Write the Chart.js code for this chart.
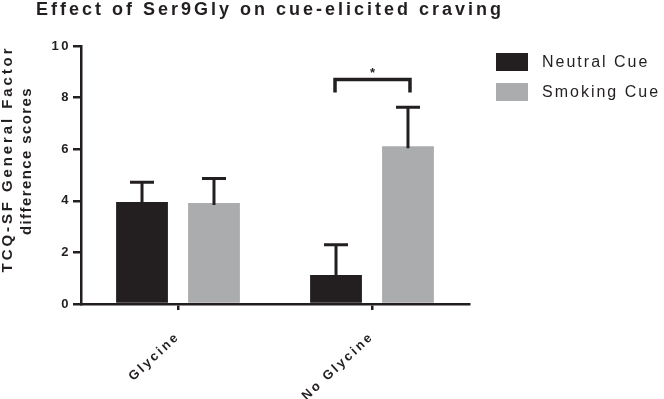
<!DOCTYPE html>
<html>
<head>
<meta charset="utf-8">
<script src="https://cdn.jsdelivr.net/npm/chart.js@4/dist/chart.umd.min.js"></script>
<style>
html,body{margin:0;padding:0;background:#fff;}
#wrap{width:664px;height:399px;position:relative;}
</style>
</head>
<body>
<div id="wrap"><canvas id="c" width="664" height="399"></canvas></div>
<script>
const categories = ["Glycine", "No Glycine"];
const seriesNames = ["Neutral Cue", "Smoking Cue"];
const neutralMeans = [3.95, 1.12];
const neutralErr = [0.77, 1.18];
const smokingMeans = [3.91, 6.11];
const smokingErr = [0.95, 1.52];
const yTicks = [0, 2, 4, 6, 8, 10];
const titleText = "Effect of Ser9Gly on cue-elicited craving";
const yTitleLines = ["TCQ-SF General Factor", "difference scores"];
const sigLabel = "*";
const sigBracket = { category: 1, top: 8.7, arm: 8.2, star: 9.05 };

const DARK = "#231f20";
const GRAY = "#abacae";
const FONT = "'Liberation Sans', Arial, Helvetica, sans-serif";

const extras = {
  id: "extras",
  beforeUpdate(chart) { chart.ctx.letterSpacing = "2.5px"; },
  beforeDraw(chart) { chart.ctx.letterSpacing = "2.5px"; },
  afterDatasetsDraw(chart) {
    const ctx = chart.ctx;
    const y = chart.scales.y;
    const errs = [neutralErr, smokingErr];
    const means = [neutralMeans, smokingMeans];
    ctx.save();
    ctx.strokeStyle = DARK;
    ctx.lineWidth = 3;
    ctx.lineCap = "butt";
    for (let d = 0; d < 2; d++) {
      const meta = chart.getDatasetMeta(d);
      meta.data.forEach((bar, i) => {
        const x = bar.x;
        const y0 = y.getPixelForValue(means[d][i]);
        const y1 = y.getPixelForValue(means[d][i] + errs[d][i]);
        ctx.beginPath();
        ctx.moveTo(x, y0 + 2);
        ctx.lineTo(x, y1);
        ctx.moveTo(x - 12, y1);
        ctx.lineTo(x + 12, y1);
        ctx.stroke();
      });
    }
    // significance bracket
    const b0 = chart.getDatasetMeta(0).data[sigBracket.category];
    const b1 = chart.getDatasetMeta(1).data[sigBracket.category];
    const xl = b0.x - 1, xr = b1.x + 2;
    const yt = y.getPixelForValue(sigBracket.top);
    const ya = y.getPixelForValue(sigBracket.arm);
    ctx.lineWidth = 3.5;
    ctx.lineJoin = "miter";
    ctx.beginPath();
    ctx.moveTo(xl, ya);
    ctx.lineTo(xl, yt);
    ctx.lineTo(xr, yt);
    ctx.lineTo(xr, ya);
    ctx.stroke();
    ctx.fillStyle = DARK;
    ctx.letterSpacing = "0px";
    ctx.font = "bold 13px " + FONT;
    ctx.textAlign = "center";
    ctx.textBaseline = "middle";
    ctx.fillText(sigLabel, (xl + xr) / 2, y.getPixelForValue(sigBracket.star) + 3);
    ctx.restore();
  },
  afterDraw(chart) {
    const ctx = chart.ctx;
    ctx.save();
    ctx.fillStyle = DARK;
    // title
    ctx.letterSpacing = "3px";
    ctx.font = "bold 18px " + FONT;
    ctx.textAlign = "left";
    ctx.textBaseline = "middle";
    ctx.fillText(titleText, 36, 10);
    // y title
    ctx.textAlign = "center";
    const cy = 159;
    ctx.save();
    ctx.letterSpacing = "2.9px";
    ctx.font = "bold 15px " + FONT;
    ctx.translate(8, cy);
    ctx.rotate(-Math.PI / 2);
    ctx.fillText(yTitleLines[0], 0, 0);
    ctx.restore();
    ctx.save();
    ctx.letterSpacing = "1.4px";
    ctx.font = "bold 15px " + FONT;
    ctx.translate(27, cy + 2);
    ctx.rotate(-Math.PI / 2);
    ctx.fillText(yTitleLines[1], 0, 0);
    ctx.restore();
    // legend
    ctx.letterSpacing = "2px";
    ctx.font = "16px " + FONT;
    ctx.textAlign = "left";
    ctx.textBaseline = "middle";
    chart.data.datasets.forEach((ds, i) => {
      const top = 53 + i * 30;
      ctx.fillStyle = ds.backgroundColor;
      ctx.fillRect(496, top, 32, 18);
      ctx.fillStyle = DARK;
      ctx.fillText(ds.label, 542, top + 10);
    });
    ctx.restore();
  }
};

new Chart(document.getElementById("c"), {
  type: "bar",
  data: {
    labels: categories,
    datasets: [
      { label: seriesNames[0], data: neutralMeans, backgroundColor: DARK, borderWidth: 0 },
      { label: seriesNames[1], data: smokingMeans, backgroundColor: GRAY, borderWidth: 0 }
    ]
  },
  options: {
    responsive: false,
    animation: false,
    devicePixelRatio: 1,
    categoryPercentage: 0.742,
    barPercentage: 0.72,
    layout: { padding: { top: 46, left: 40, right: 195, bottom: 0 } },
    plugins: {
      title: { display: false },
      tooltip: { enabled: false },
      legend: { display: false }
    },
    scales: {
      x: {
        afterFit(scale) { scale.height = 95; },
        grid: { display: true, drawOnChartArea: false, offset: false, color: DARK, lineWidth: 2.5, tickLength: 6, tickColor: DARK },
        border: { display: true, color: DARK, width: 2.5 },
        ticks: { color: DARK, minRotation: 43, maxRotation: 43, padding: 19, font: { family: FONT, size: 13, weight: "bold" } }
      },
      y: {
        min: 0,
        max: 10,
        afterFit(scale) { scale.width = 41; },
        afterBuildTicks(scale) { scale.ticks = yTicks.map(v => ({ value: v })); },
        grid: { display: true, drawOnChartArea: false, color: DARK, lineWidth: 2.5, tickLength: 8, tickColor: DARK },
        border: { display: true, color: DARK, width: 2.5 },
        ticks: { color: DARK, padding: 2, font: { family: FONT, size: 13, weight: "bold" } }
      }
    }
  },
  plugins: [extras]
});
</script>
</body>
</html>
